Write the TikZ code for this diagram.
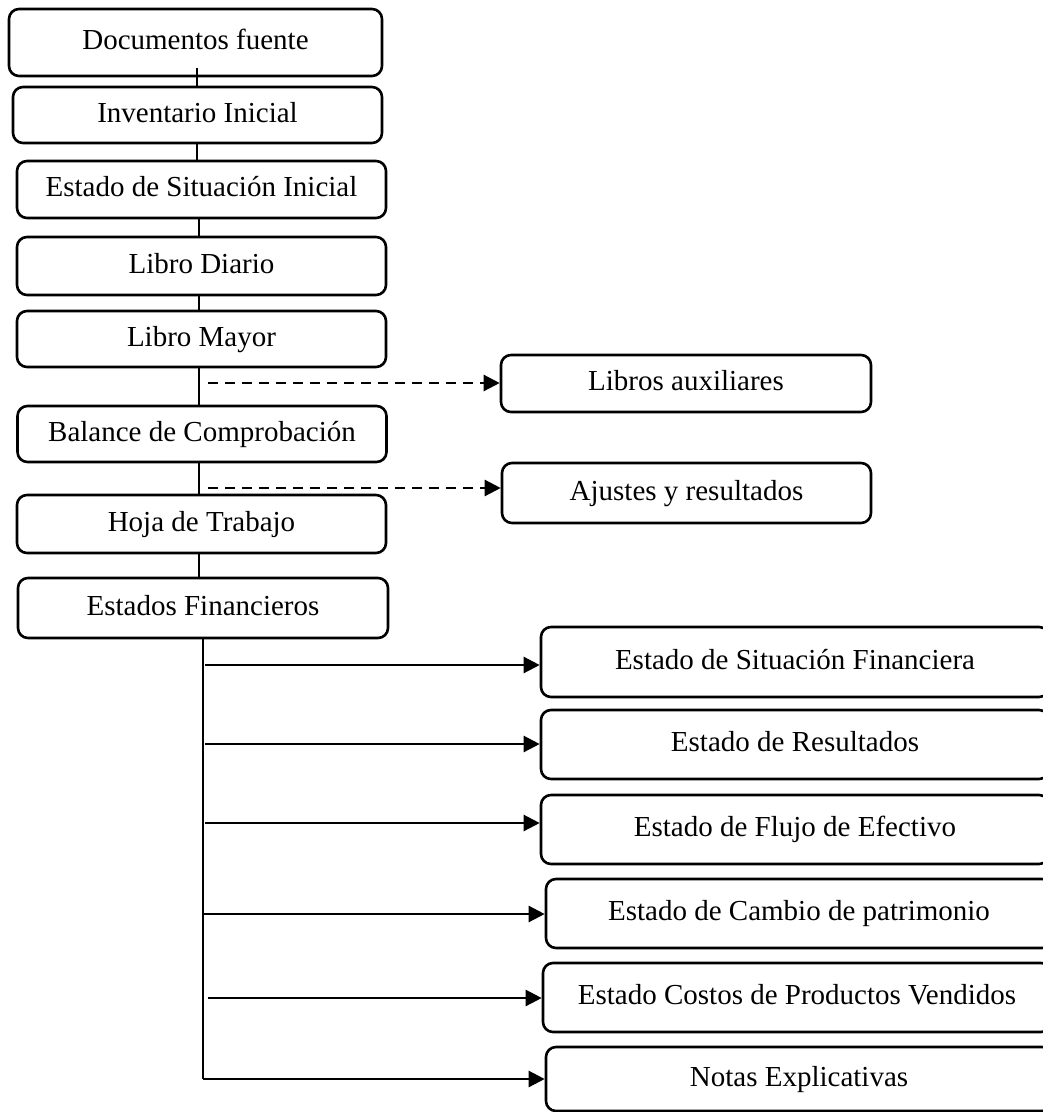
\documentclass[tikz,border=0pt]{standalone}
\usepackage{fontspec}
\setmainfont{Liberation Serif}
\usetikzlibrary{arrows.meta}
\begin{document}
\begin{tikzpicture}[x=1pt,y=-1pt,
  box/.style={draw, line width=2.6pt, rounded corners=10pt, inner sep=0pt,
    font=\fontsize{29}{34}\selectfont, text height=20pt, text depth=6pt, align=center},
  link/.style={line width=2.4pt},
  dlink/.style={line width=2.4pt, dash pattern=on 10pt off 7pt, -{Triangle[length=16pt,width=16pt]}},
  alink/.style={line width=2.4pt, -{Triangle[length=16pt,width=16pt]}}]
\useasboundingbox (0,0) rectangle (1043,1112);
% left column
\node[box, minimum width=373pt, minimum height=67pt] (docf) at (195.5,42.5) {Documentos fuente};
\node[box, minimum width=369pt, minimum height=56pt] (inv) at (197.5,115) {Inventario Inicial};
\node[box, minimum width=369pt, minimum height=57pt] (esi) at (201.5,189.5) {Estado de Situación Inicial};
\node[box, minimum width=369pt, minimum height=58pt] (ldia) at (201.5,266) {Libro Diario};
\node[box, minimum width=369pt, minimum height=56pt] (lmay) at (201.5,339) {Libro Mayor};
\node[box, minimum width=369pt, minimum height=56pt] (bal) at (202,434) {Balance de Comprobación};
\node[box, minimum width=369pt, minimum height=58pt] (hoja) at (201.5,524) {Hoja de Trabajo};
\node[box, minimum width=370pt, minimum height=60pt] (ef) at (203,608) {Estados Financieros};
% side boxes
\node[box, minimum width=370pt, minimum height=57pt] (la) at (686,383.5) {Libros auxiliares};
\node[box, minimum width=369pt, minimum height=60pt] (aj) at (686.5,493) {Ajustes y resultados};
% financial statements
\node[box, minimum width=508pt, minimum height=70pt] (sf) at (795,662) {Estado de Situación Financiera};
\node[box, minimum width=508pt, minimum height=69pt] (re) at (795,744.5) {Estado de Resultados};
\node[box, minimum width=508pt, minimum height=69pt] (fe) at (795,829.5) {Estado de Flujo de Efectivo};
\node[box, minimum width=506pt, minimum height=69pt] (cp) at (799,913.5) {Estado de Cambio de patrimonio};
\node[box, minimum width=508pt, minimum height=69pt] (cv) at (797,997.5) {Estado Costos de Productos Vendidos};
\node[box, minimum width=506pt, minimum height=64pt] (ne) at (799,1079) {Notas Explicativas};
% spine
\coordinate (s1) at (197,0);
\coordinate (s2) at (199,0);
\coordinate (s3) at (203,0);
\draw[link] (docf.south -| s1) ++(0,-9) -- (inv.north -| s1);
\draw[link] (inv.south -| s1) -- (esi.north -| s1);
\draw[link] (esi.south -| s2) -- (ldia.north -| s2);
\draw[link] (ldia.south -| s2) -- (lmay.north -| s2);
\draw[link] (lmay.south -| s2) -- (bal.north -| s2);
\draw[link] (bal.south -| s2) -- (hoja.north -| s2);
\draw[link] (hoja.south -| s2) -- (ef.north -| s2);
% dashed branches
\coordinate (d1) at (208,383);
\coordinate (d2) at (208,488);
\draw[dlink] (d1) -- (d1 -| la.west);
\draw[dlink] (d2) -- (d2 -| aj.west);
% lower spine and arrows
\coordinate (c1) at (205,665);
\coordinate (c2) at (205,744);
\coordinate (c3) at (205,823);
\coordinate (c4) at (204,914);
\coordinate (c5) at (208,998);
\coordinate (c6) at (203,1079);
\draw[link] (ef.south -| s3) -- (c6);
\draw[alink] (c1) -- (c1 -| sf.west);
\draw[alink] (c2) -- (c2 -| re.west);
\draw[alink] (c3) -- (c3 -| fe.west);
\draw[alink] (c4) -- (c4 -| cp.west);
\draw[alink] (c5) -- (c5 -| cv.west);
\draw[alink] (c6) -- (c6 -| ne.west);
\end{tikzpicture}
\end{document}
